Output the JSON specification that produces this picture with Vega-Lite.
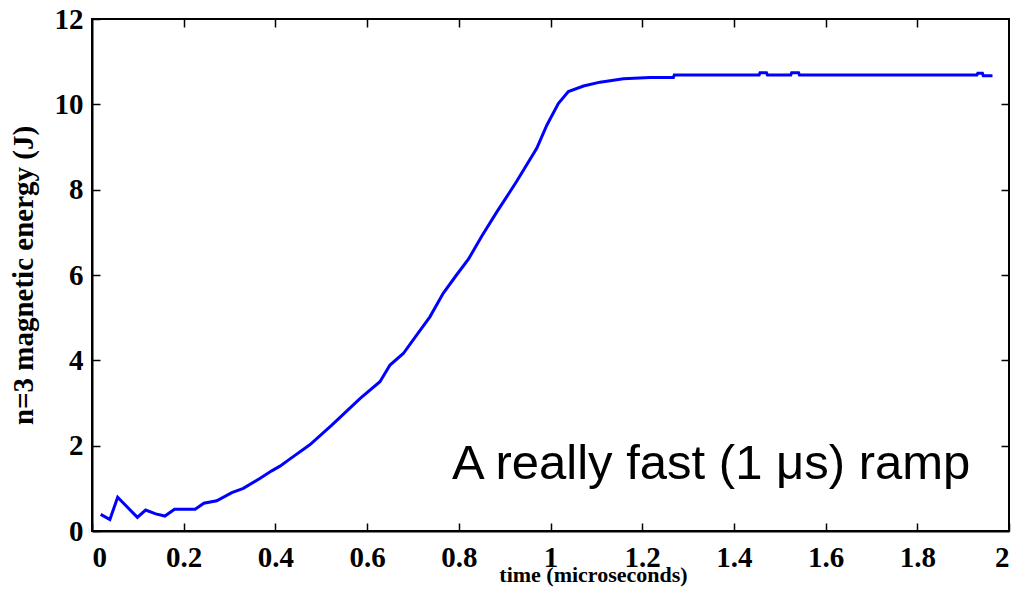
{
  "$schema": "https://vega.github.io/schema/vega-lite/v6.json",
  "autosize": {"type": "none"},
  "padding": {"left": 92, "top": 19, "right": 10, "bottom": 70},
  "width": 917,
  "height": 512,
  "background": "white",
  "config": {
    "view": {"stroke": "black", "strokeWidth": 2},
    "axis": {
      "domainColor": "black", "domainWidth": 2,
      "tickColor": "black", "tickWidth": 1.5, "tickSize": -8,
      "grid": false,
      "labelFont": "Liberation Serif", "labelFontWeight": "bold", "labelFontSize": 29, "labelColor": "black",
      "titleFont": "Liberation Serif", "titleFontWeight": "bold", "titleColor": "black"
    }
  },
  "datasets": {
    "energy": [
      {"t": 0.019, "E": 0.39}, {"t": 0.039, "E": 0.27}, {"t": 0.056, "E": 0.79},
      {"t": 0.099, "E": 0.32}, {"t": 0.117, "E": 0.49}, {"t": 0.139, "E": 0.40},
      {"t": 0.159, "E": 0.35}, {"t": 0.18, "E": 0.51}, {"t": 0.225, "E": 0.51},
      {"t": 0.244, "E": 0.65}, {"t": 0.272, "E": 0.71}, {"t": 0.305, "E": 0.9},
      {"t": 0.33, "E": 1.0}, {"t": 0.366, "E": 1.23}, {"t": 0.392, "E": 1.41},
      {"t": 0.41, "E": 1.52}, {"t": 0.432, "E": 1.69}, {"t": 0.475, "E": 2.02},
      {"t": 0.523, "E": 2.48}, {"t": 0.585, "E": 3.11}, {"t": 0.628, "E": 3.5},
      {"t": 0.65, "E": 3.89}, {"t": 0.679, "E": 4.16}, {"t": 0.708, "E": 4.59},
      {"t": 0.737, "E": 5.02}, {"t": 0.766, "E": 5.57}, {"t": 0.795, "E": 6.0},
      {"t": 0.821, "E": 6.37}, {"t": 0.85, "E": 6.91}, {"t": 0.883, "E": 7.48},
      {"t": 0.926, "E": 8.19}, {"t": 0.97, "E": 8.97}, {"t": 0.992, "E": 9.51},
      {"t": 1.017, "E": 10.02}, {"t": 1.039, "E": 10.3}, {"t": 1.072, "E": 10.43},
      {"t": 1.108, "E": 10.52}, {"t": 1.159, "E": 10.6}, {"t": 1.217, "E": 10.63},
      {"t": 1.268, "E": 10.63}, {"t": 1.27, "E": 10.69}, {"t": 1.455, "E": 10.69},
      {"t": 1.457, "E": 10.74}, {"t": 1.471, "E": 10.74}, {"t": 1.473, "E": 10.69},
      {"t": 1.524, "E": 10.69}, {"t": 1.526, "E": 10.74}, {"t": 1.541, "E": 10.74},
      {"t": 1.543, "E": 10.69}, {"t": 1.93, "E": 10.69}, {"t": 1.932, "E": 10.73},
      {"t": 1.942, "E": 10.73}, {"t": 1.944, "E": 10.67}, {"t": 1.964, "E": 10.67}
    ],
    "note": [{"t": 0.785, "E": 1.22, "label": "A really fast (1 μs) ramp"}]
  },
  "layer": [
    {
      "data": {"name": "energy"},
      "mark": {"type": "line", "color": "#0000ff", "strokeWidth": 3},
      "encoding": {
        "x": {"field": "t", "type": "quantitative", "scale": {"domain": [0, 2], "nice": false},
          "axis": {"orient": "bottom", "values": [0, 0.2, 0.4, 0.6, 0.8, 1, 1.2, 1.4, 1.6, 1.8, 2], "format": "~g",
            "labelPadding": 20, "title": "time (microseconds)", "titleFontSize": 22,
            "titleX": 501, "titleY": 50, "titleBaseline": "alphabetic", "titleAlign": "center"}},
        "y": {"field": "E", "type": "quantitative", "scale": {"domain": [0, 12], "nice": false},
          "axis": {"orient": "left", "values": [0, 2, 4, 6, 8, 10, 12], "labelPadding": 17,
            "title": "n=3 magnetic energy (J)", "titleFontSize": 29, "titleX": -60, "titleY": 256, "titleAngle": -90, "titleAlign": "center", "titleBaseline": "alphabetic"}}
      }
    },
    {
      "data": {"name": "energy"},
      "mark": {"type": "line", "opacity": 0},
      "encoding": {
        "x": {"field": "t", "type": "quantitative",
          "axis": {"orient": "top", "values": [0.2, 0.4, 0.6, 0.8, 1, 1.2, 1.4, 1.6, 1.8], "labels": false, "title": null, "domain": false}},
        "y": {"field": "E", "type": "quantitative",
          "axis": {"orient": "right", "values": [2, 4, 6, 8, 10], "labels": false, "title": null, "domain": false}}
      }
    },
    {
      "data": {"name": "note"},
      "mark": {"type": "text", "align": "left", "baseline": "alphabetic", "font": "Liberation Sans", "fontSize": 49, "color": "black"},
      "encoding": {
        "x": {"field": "t", "type": "quantitative", "axis": null},
        "y": {"field": "E", "type": "quantitative", "axis": null},
        "text": {"field": "label"}
      }
    }
  ],
  "resolve": {"axis": {"x": "independent", "y": "independent"}}
}
